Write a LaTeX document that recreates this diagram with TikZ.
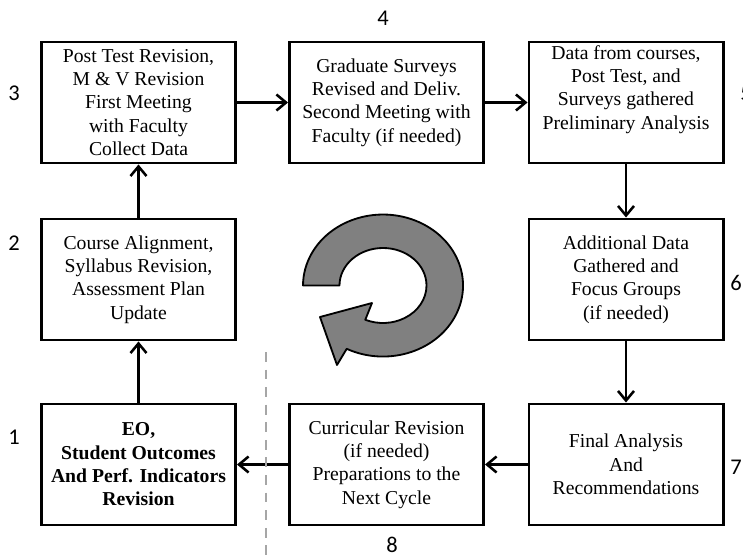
\documentclass[tikz,border=0pt]{standalone}
\usepackage{fontspec}
\setmainfont{Liberation Serif}
\newfontfamily\numfont{Carlito}
\usetikzlibrary{arrows.meta}

\begin{document}
\begin{tikzpicture}[x=0.025cm,y=0.025cm,
  caixa/.style={draw,line width=2.1pt,minimum width=4.85cm,minimum height=3.025cm,
    align=center,inner sep=0pt,font=\fontsize{14}{16.6}\selectfont},
  seta/.style={line width=2.1pt,-{Straight Barb[length=2.4mm,width=4mm,line width=1.8pt]}},
  num/.style={font=\numfont\fontsize{16}{16}\selectfont}]
\useasboundingbox (0,0) rectangle (743,-558);
% Caixas
\node[caixa] (b3) at (138.5,-102.5) {Post Test Revision,\\M \& V Revision\\First Meeting\\with Faculty\\Collect Data};
\node[caixa] (b4) at (386.5,-102.5) {Graduate Surveys\\Revised and Deliv.\\Second Meeting with\\Faculty (if needed)};
\node[caixa] (b5) at (626,-102.5) {Data from courses,\\Post Test, and\\Surveys gathered\\Preliminary Analysis\\ \strut};
\node[caixa] (b2) at (138.5,-279.5) {Course Alignment,\\Syllabus Revision,\\Assessment Plan\\Update};
\node[caixa] (b6) at (626,-279.5) {Additional Data\\Gathered and\\Focus Groups\\(if needed)};
\node[caixa] (b1) at (138.5,-464.5) {\bfseries EO,\\\bfseries Student Outcomes\\\bfseries And Perf. Indicators\\\bfseries Revision};
\node[caixa] (b8) at (386.5,-464.5) {Curricular Revision\\(if needed)\\Preparations to the\\Next Cycle};
\node[caixa] (b7) at (626,-464.5) {Final Analysis\\And\\Recommendations};
% Numeros
\node[num] (n1) at (14,-437) {1};
\node[num] (n2) at (14,-243) {2};
\node[num] (n3) at (14,-93) {3};
\node[num] (n4) at (383,-18) {4};
\node[num] (n5) at (746,-93) {5};
\node[num] (n6) at (736,-283) {6};
\node[num] (n7) at (736,-467) {7};
\node[num] (n8) at (392,-545) {8};
% Setas
\draw[seta] (b3) -- (b4);
\draw[seta] (b4) -- (b5);
\draw[seta] (b5) -- (b6);
\draw[seta] (b6) -- (b7);
\draw[seta] (b7) -- (b8);
\draw[seta] (b8) -- (b1);
\draw[seta] (b1) -- (b2);
\draw[seta] (b2) -- (b3);
% Linha tracejada
\draw[black!35,line width=1pt,dash pattern=on 7pt off 5.5pt] (266,-352) -- (266,-558);
% Seta circular
\draw[fill=black!50,line width=1.3pt,line join=round]
  (303,-285.5) -- (339.5,-285.5)
  arc[start angle=180,end angle=-114,x radius=43.5,y radius=37.5]
  -- (372,-303) -- (320,-317) -- (337,-365) -- (346.7,-348.8)
  arc[start angle=-117,end angle=180,x radius=80,y radius=71] -- cycle;
\end{tikzpicture}
\end{document}
